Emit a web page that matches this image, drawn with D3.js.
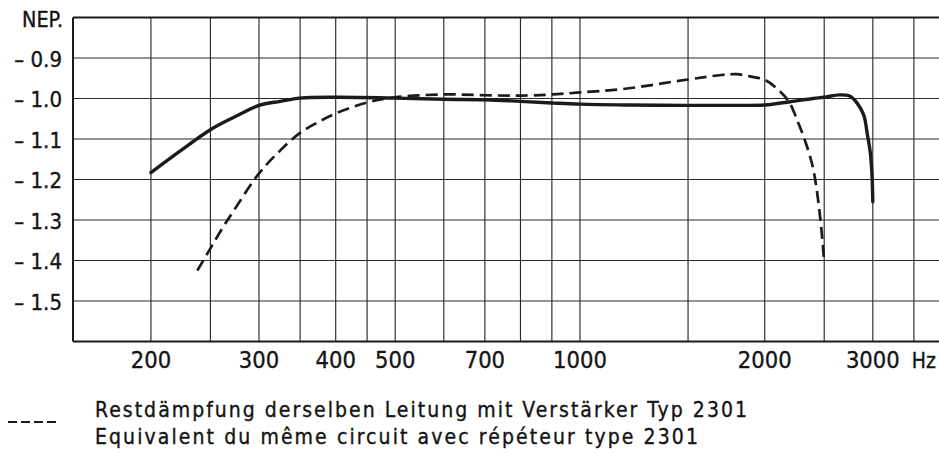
<!DOCTYPE html>
<html>
<head>
<meta charset="utf-8">
<script src="https://cdn.jsdelivr.net/npm/d3@7"></script>
<style>
  html, body { margin: 0; padding: 0; background: #ffffff; }
  svg { display: block; }
  text { fill: #141414; stroke: #141414; stroke-width: 0.35px; }
</style>
</head>
<body>
<svg id="chart" width="939" height="454"></svg>
<script>
// ---- data ----
const gridFreqs = [200, 250, 300, 350, 400, 450, 500, 600, 700, 800, 900, 1000, 1500, 2000, 2500, 3000, 3500];
const freqLabels = [200, 300, 400, 500, 700, 1000, 2000, 3000];
const nepTicks = [-0.9, -1.0, -1.1, -1.2, -1.3, -1.4, -1.5];
const yUnit = "NEP.";
const xUnit = "Hz";

// solid curve (line without legend entry)
const solidFreq = [200, 223, 250, 275, 300, 325, 350, 400, 500, 600, 700, 800, 900, 1000, 1200, 1500, 1800, 2000, 2200, 2400, 2500, 2650, 2750, 2830, 2900, 2940, 2970, 2990, 3000];
const solidNep  = [-1.183, -1.13, -1.077, -1.044, -1.017, -1.007, -0.999, -0.997, -0.999, -1.002, -1.003, -1.007, -1.011, -1.014, -1.016, -1.017, -1.017, -1.016, -1.008, -1.0, -0.997, -0.991, -0.994, -1.012, -1.041, -1.09, -1.13, -1.185, -1.255];

// dashed curve: Restdämpfung mit Verstärker Typ 2301
const dashedFreq = [238, 250, 262, 272, 300, 325, 350, 375, 400, 450, 500, 600, 700, 800, 900, 1000, 1170, 1500, 1700, 1800, 1900, 2000, 2100, 2190, 2265, 2330, 2400, 2465, 2500];
const dashedNep  = [-1.425, -1.37, -1.318, -1.28, -1.185, -1.128, -1.085, -1.058, -1.037, -1.01, -0.997, -0.99, -0.992, -0.993, -0.99, -0.985, -0.977, -0.953, -0.942, -0.94, -0.946, -0.954, -0.977, -1.008, -1.058, -1.107, -1.175, -1.30, -1.405];

const legendLines = [
  "Restdämpfung derselben Leitung mit Verstärker Typ 2301",
  "Equivalent du même circuit avec répéteur type 2301"
];

// ---- layout ----
const svg = d3.select("#chart");
const plot = { left: 73, right: 940, top: 17.5, bottom: 341.5 };

const x = d3.scaleLog().domain([149.3, 3860]).range([plot.left, plot.right]);
const y = d3.scaleLinear().domain([-0.8, -1.6]).range([plot.top, plot.bottom]);

const ink = "#1b1b1b";
const cond = "'DejaVu Sans Condensed', 'DejaVu Sans', sans-serif";

// horizontal grid
svg.append("g").selectAll("line").data(nepTicks).join("line")
  .attr("x1", plot.left).attr("x2", plot.right)
  .attr("y1", d => y(d)).attr("y2", d => y(d))
  .attr("stroke", "#2a2a2a").attr("stroke-width", 1.15);

// vertical grid
svg.append("g").selectAll("line").data(gridFreqs).join("line")
  .attr("x1", d => x(d)).attr("x2", d => x(d))
  .attr("y1", plot.top).attr("y2", plot.bottom)
  .attr("stroke", "#2a2a2a").attr("stroke-width", 1.15);

// frame (left, top, bottom)
const frame = svg.append("g").attr("stroke", ink).attr("stroke-width", 2);
frame.append("line").attr("x1", plot.left).attr("x2", plot.left).attr("y1", plot.top).attr("y2", plot.bottom);
frame.append("line").attr("x1", plot.left).attr("x2", plot.right).attr("y1", plot.top).attr("y2", plot.top);
frame.append("line").attr("x1", plot.left).attr("x2", plot.right).attr("y1", plot.bottom).attr("y2", plot.bottom);

// y tick labels
const fmtY = d => "\u2013 " + Math.abs(d).toFixed(1);
svg.append("g").selectAll("text").data(nepTicks).join("text")
  .attr("x", 62).attr("y", d => y(d) + 8.5)
  .attr("text-anchor", "end")
  .style("font-family", cond).style("font-size", "22px")
  .text(fmtY);

svg.append("text").attr("x", 22).attr("y", 27)
  .attr("textLength", 41).attr("lengthAdjust", "spacingAndGlyphs")
  .style("font-family", cond).style("font-size", "21px")
  .text(yUnit);

// x tick labels
svg.append("g").selectAll("text").data(freqLabels).join("text")
  .attr("x", d => x(d)).attr("y", 368)
  .attr("text-anchor", "middle")
  .style("font-family", cond).style("font-size", "23.5px")
  .text(d => String(d));

svg.append("text").attr("x", 936).attr("y", 368)
  .attr("text-anchor", "end")
  .style("font-family", cond).style("font-size", "21px")
  .text(xUnit);

// curves
const line = d3.line().x(d => x(d[0])).y(d => y(d[1])).curve(d3.curveCatmullRom.alpha(0.5));

svg.append("path")
  .datum(solidFreq.map((f, i) => [f, solidNep[i]]))
  .attr("d", line)
  .attr("fill", "none").attr("stroke", ink).attr("stroke-width", 3.4)
  .attr("stroke-linejoin", "round").attr("stroke-linecap", "round");

svg.append("path")
  .datum(dashedFreq.map((f, i) => [f, dashedNep[i]]))
  .attr("d", line)
  .attr("fill", "none").attr("stroke", ink).attr("stroke-width", 2.7)
  .attr("stroke-dasharray", "12,6");

// legend
svg.append("line").attr("x1", 8).attr("x2", 56).attr("y1", 422).attr("y2", 422)
  .attr("stroke", ink).attr("stroke-width", 2).attr("stroke-dasharray", "9,4");

const legendWidths = [652, 603];
svg.append("g").selectAll("text").data(legendLines).join("text")
  .attr("x", 95).attr("y", (d, i) => 417 + i * 27)
  .attr("textLength", (d, i) => legendWidths[i]).attr("lengthAdjust", "spacing")
  .style("font-family", cond).style("font-size", "21px")
  .text(d => d);
</script>
</body>
</html>
